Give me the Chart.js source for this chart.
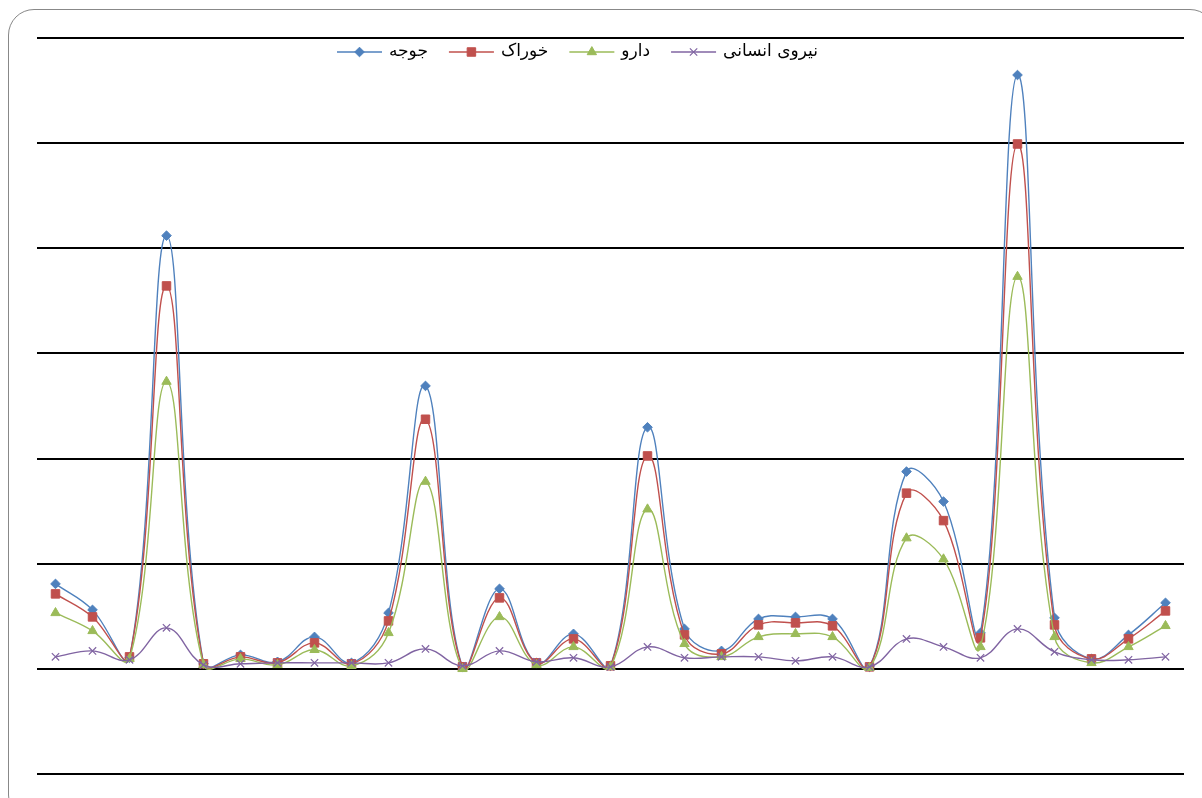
<!DOCTYPE html>
<html>
<head>
<meta charset="utf-8">
<script src="https://cdn.jsdelivr.net/npm/chart.js@4/dist/chart.umd.min.js"></script>
<style>
  html, body { margin: 0; padding: 0; background: #fff; overflow: hidden; width: 1202px; height: 798px; }
  #frame { position: absolute; left: 8px; top: 9px; width: 1208px; height: 812px;
           border: 1.5px solid #888; border-radius: 26px; box-sizing: border-box; }
  #c { position: absolute; left: 0; top: 0; }
</style>
</head>
<body>
<div id="frame"></div>
<canvas id="c" width="1202" height="798"></canvas>
<script>
// Row categories (31 periods)
const categories = ['1','2','3','4','5','6','7','8','9','10','11','12','13','14','15','16',
                    '17','18','19','20','21','22','23','24','25','26','27','28','29','30','31'];

// Cost series
const chicks = [80.8, 56.1, 10.5, 412, 4.8, 13.3, 6.7, 30.4, 5.7, 53.2, 269.1, 1.9, 76.1, 5.7, 33.3, 2.9,
                229.8, 38, 17.1, 47.5, 49.4, 47.5, 1.9, 187.6, 159.1, 34.2, 564.8, 48.5, 9.5, 32.3, 62.8];
const feed   = [71.3, 49.4, 11.4, 364.2, 4.8, 11.4, 5.7, 24.7, 4.8, 45.6, 237.4, 1.9, 67.5, 5.7, 28.5, 2.9,
                202.5, 32.3, 14.3, 41.8, 43.7, 40.9, 1.9, 167.1, 141, 29.5, 499.2, 41.8, 9.5, 28.5, 55.1];
const medicine = [53.2, 36.1, 9.5, 273.2, 3.8, 9.5, 3.8, 18.1, 2.9, 34.2, 178.1, 0, 49.4, 3.8, 20.9, 1.9,
                  151.8, 23.8, 11.4, 30.4, 33.3, 30.4, 1, 124.3, 104.3, 20.9, 373, 30.4, 5.7, 20.9, 40.9];
const labor  = [11.4, 17.1, 8.6, 39, 3.8, 4.8, 5.7, 5.7, 5.7, 5.7, 19, 2.9, 17.1, 6.7, 10.5, 1.9,
                20.9, 10.5, 11.4, 11.4, 7.6, 11.4, 1.9, 28.5, 20.9, 10.5, 38, 16.2, 8.6, 8.6, 11.4];

const seriesNames = ['جوجه', 'خوراک', 'دارو', 'نیروی انسانی'];

// Value axis range
const yMin = -100, yMax = 600, yStep = 100;

const colors = ['#4F81BD', '#C0504D', '#9BBB59', '#8064A2'];
const styles = [
  { pointStyle: 'rectRot',  pointRadius: 4.8 },
  { pointStyle: 'rect',     pointRadius: 6.0 },
  { pointStyle: 'triangle', pointRadius: 5.4 },
  { pointStyle: 'crossRot', pointRadius: 5.2 }
];
const values = [chicks, feed, medicine, labor];

const datasets = values.map((data, i) => ({
  label: seriesNames[i],
  data: data,
  borderColor: colors[i],
  backgroundColor: colors[i],
  pointBackgroundColor: colors[i],
  pointBorderColor: colors[i],
  pointBorderWidth: i === 3 ? 1.2 : 1,
  pointStyle: styles[i].pointStyle,
  pointRadius: styles[i].pointRadius,
  borderWidth: 1.4,
  tension: 0.4,
  fill: false,
  order: 4 - i
}));

// Legend drawn as line + marker samples followed by the series name
const lineLegend = {
  id: 'lineLegend',
  afterDraw(chart, args, opts) {
    const ctx = chart.ctx;
    ctx.save();
    ctx.font = opts.font;
    ctx.textBaseline = 'middle';
    ctx.textAlign = 'left';
    let x = opts.x;
    const y = opts.y;
    chart.data.datasets.forEach(ds => {
      ctx.strokeStyle = ds.borderColor;
      ctx.lineWidth = 1.3;
      ctx.beginPath();
      ctx.moveTo(x, y);
      ctx.lineTo(x + opts.lineLen, y);
      ctx.stroke();
      ctx.fillStyle = ds.pointBackgroundColor;
      ctx.strokeStyle = ds.pointBorderColor;
      ctx.lineWidth = ds.pointBorderWidth;
      Chart.helpers.drawPoint(ctx, {
        pointStyle: ds.pointStyle, radius: ds.pointRadius, rotation: 0, borderWidth: ds.pointBorderWidth
      }, x + opts.lineLen / 2, y);
      x += opts.lineLen + opts.gap;
      ctx.fillStyle = '#000';
      ctx.fillText(ds.label, x, y);
      x += ctx.measureText(ds.label).width + opts.itemGap;
    });
    ctx.restore();
  }
};

new Chart(document.getElementById('c'), {
  type: 'line',
  data: { labels: categories, datasets: datasets },
  options: {
    responsive: false,
    animation: false,
    layout: { padding: { left: 37, right: 18, top: 38, bottom: 24 } },
    scales: {
      x: { type: 'category', offset: true, display: false },
      y: {
        min: yMin, max: yMax,
        ticks: { display: false, stepSize: yStep },
        grid: { color: '#000', lineWidth: 2, drawTicks: false },
        border: { display: false }
      }
    },
    plugins: {
      legend: { display: false },
      tooltip: { enabled: false },
      lineLegend: { x: 337, y: 52, lineLen: 45, gap: 7, itemGap: 21,
                    font: '17px "DejaVu Sans", sans-serif' }
    }
  },
  plugins: [lineLegend]
});
</script>
</body>
</html>
